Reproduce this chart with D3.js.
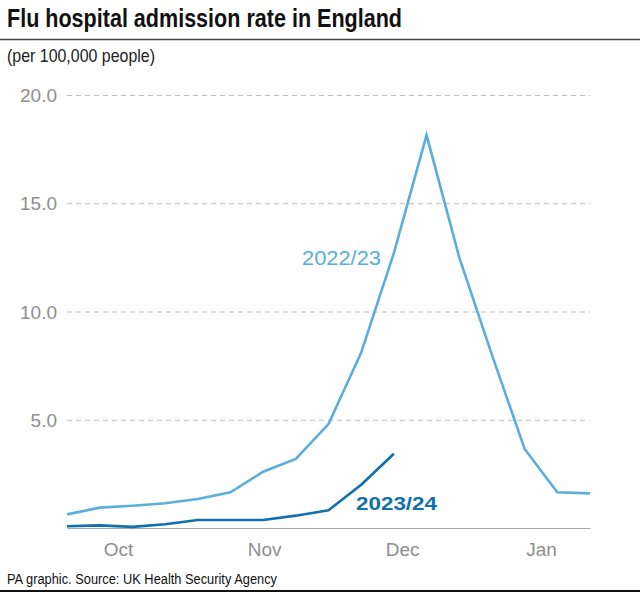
<!DOCTYPE html>
<html>
<head>
<meta charset="utf-8">
<script src="https://cdn.jsdelivr.net/npm/d3@7"></script>
<style>
  html, body { margin: 0; padding: 0; background: #fff; }
  svg { display: block; }
  text { font-family: "Liberation Sans", Arial, Helvetica, sans-serif; }
</style>
</head>
<body>
<svg id="chart" width="640" height="594"></svg>
<script>
// ---- Data ----
const title = "Flu hospital admission rate in England";
const subtitle = "(per 100,000 people)";
const source = "PA graphic. Source: UK Health Security Agency";

const weekIndex = [0,1,2,3,4,5,6,7,8,9,10,11,12,13,14,15,16];
const season2022 = [0.63, 0.94, 1.03, 1.14, 1.34, 1.65, 2.6, 3.19, 4.8, 8.1, 12.7, 18.15, 12.5, 8.0, 3.65, 1.65, 1.6];
const season2023 = [0.08, 0.12, 0.05, 0.17, 0.37, 0.37, 0.37, 0.57, 0.82, 2.0, 3.43];
const seriesNames = ["2022/23", "2023/24"];

const monthLabels = ["Oct", "Nov", "Dec", "Jan"];
const monthPositions = [1.56, 6.03, 10.25, 14.5]; // in weeks from first data point
const yTicks = [5, 10, 15, 20];

// ---- Layout ----
const svg = d3.select("#chart");
const W = 640, H = 594;
const colors = { light: "#5aaedb", dark: "#0f70ad" };

const x = d3.scaleLinear().domain([0, 16]).range([67, 590]);
const y = d3.scaleLinear().domain([0, 20]).range([528, 95]);

// Title
svg.append("text")
  .attr("x", 7).attr("y", 27)
  .attr("font-size", 25.5).attr("font-weight", "bold").attr("fill", "#111")
  .attr("textLength", 395).attr("lengthAdjust", "spacingAndGlyphs")
  .text(title);
svg.append("line")
  .attr("x1", 0).attr("x2", W).attr("y1", 39.5).attr("y2", 39.5)
  .attr("stroke", "#444").attr("stroke-width", 1.5);
svg.append("text")
  .attr("x", 7).attr("y", 62)
  .attr("font-size", 19).attr("fill", "#222")
  .attr("textLength", 148).attr("lengthAdjust", "spacingAndGlyphs")
  .text(subtitle);

// Gridlines & y labels
const yAxis = d3.axisLeft(y).tickValues(yTicks)
  .tickSize(-(x.range()[1] - x.range()[0]))
  .tickFormat(d3.format(".1f"))
  .tickPadding(10);
const gy = svg.append("g").attr("transform", `translate(${x.range()[0]},0)`).call(yAxis);
gy.select(".domain").remove();
gy.selectAll(".tick line")
  .attr("stroke", "#bdbdbd").attr("stroke-width", 1).attr("stroke-dasharray", "5,4");
gy.selectAll(".tick text")
  .attr("font-size", 19).attr("fill", "#8e8e8e")
  .attr("font-family", "Roboto, 'Liberation Sans', sans-serif").attr("font-weight", 300)
  .attr("x", -10).attr("dy", "0.35em");

// Baseline & x labels
const xAxis = d3.axisBottom(x).tickValues(monthPositions)
  .tickFormat((d, i) => monthLabels[i]).tickSize(0).tickPadding(15);
const gx = svg.append("g").attr("transform", `translate(0,${y(0)})`).call(xAxis);
gx.select(".domain").attr("stroke", "#a8a8a8").attr("stroke-width", 1.2);
gx.selectAll(".tick text")
  .attr("font-size", 19).attr("fill", "#8e8e8e")
  .attr("font-family", "Roboto, 'Liberation Sans', sans-serif").attr("font-weight", 300);

// Lines
const line = d3.line().x((d, i) => x(weekIndex[i])).y(d => y(d));
svg.append("path").datum(season2022)
  .attr("d", line).attr("fill", "none")
  .attr("stroke", colors.light).attr("stroke-width", 2.6).attr("stroke-linejoin", "miter");
svg.append("path").datum(season2023)
  .attr("d", line).attr("fill", "none")
  .attr("stroke", colors.dark).attr("stroke-width", 2.6).attr("stroke-linejoin", "round");

// Series labels
svg.append("text")
  .attr("x", 302).attr("y", 265)
  .attr("font-size", 21).attr("fill", colors.light)
  .attr("textLength", 79).attr("lengthAdjust", "spacingAndGlyphs")
  .text(seriesNames[0]);
svg.append("text")
  .attr("x", 356).attr("y", 510)
  .attr("font-size", 19).attr("font-weight", "bold").attr("fill", colors.dark)
  .attr("textLength", 81).attr("lengthAdjust", "spacingAndGlyphs")
  .text(seriesNames[1]);

// Footer
svg.append("text")
  .attr("x", 7).attr("y", 584)
  .attr("font-size", 15.5).attr("fill", "#111")
  .attr("textLength", 270).attr("lengthAdjust", "spacingAndGlyphs")
  .text(source);
svg.append("line")
  .attr("x1", 0).attr("x2", W).attr("y1", 591).attr("y2", 591)
  .attr("stroke", "#111").attr("stroke-width", 2);
</script>
</body>
</html>
